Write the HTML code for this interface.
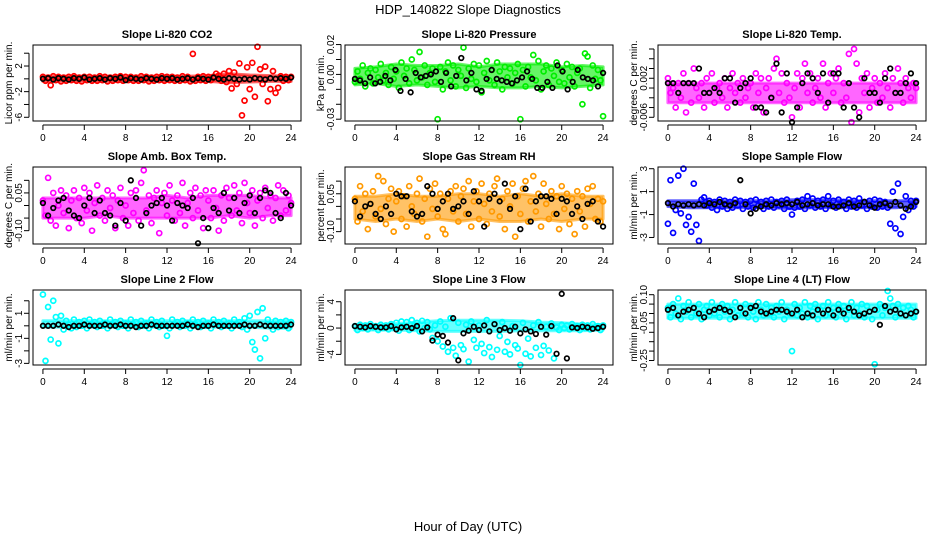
<!DOCTYPE html>
<html><head><meta charset="utf-8"><style>
html,body{margin:0;padding:0;background:#fff;}
svg{display:block;font-family:"Liberation Sans",sans-serif;}
</style></head><body>
<svg id="chart" width="936" height="540" viewBox="0 0 936 540">
<rect width="936" height="540" fill="#fff"/>
<text x="468" y="14" text-anchor="middle" font-size="13">HDP_140822  Slope Diagnostics</text>
<text x="468" y="531" text-anchor="middle" font-size="13">Hour of Day (UTC)</text>
</svg>
<script>
const xTicks = [0,4,8,12,16,20,24];
const bandHours = [0,2,4,6,8,10,12,14,16,18,20,22,24];
const co2Colored = [0.3,-0.3,0.2,-1,0.4,-0.2,0.3,-0.4,0.2,-0.3,0.3,-0.2,0.4,-0.3,0.2,-0.4,
0.3,-0.2,0.3,-0.3,0.2,-0.3,0.4,-0.2,0.3,-0.4,0.2,-0.3,0.3,-0.2,0.4,-0.3,
0.3,-0.2,0.3,-0.3,0.2,-0.3,0.4,-0.2,0.3,-0.4,0.2,-0.3,0.3,-0.2,0.4,-0.3,
0.3,-0.2,0.3,-0.3,0.2,-0.3,0.4,-0.2,0.3,-0.4,3.9,-0.3,0.3,-0.2,0.4,-0.3,
0.3,-0.2,0.3,0.8,0.5,-0.3,0.8,-0.5,1.2,-1.5,1.0,-0.8,2.4,-5.7,-3.4,1.8,
-1.6,2.5,-2.8,5.0,1.5,-0.8,1.9,-3.5,-1.6,1.2,-2.2,-1.4,0.4,-0.3,0.3,-0.2,0.3];
const co2Black = [0,0.1,-0.1,0.1,0,-0.1,0.1,0,0.2,-0.1,0,0.1,-0.1,0.1,0,0.2,-0.2,0.1,0,-0.1,0.1,0,-0.1,0.1,0,0.1,-0.1,0,0.1,-0.1,0.1,0,-0.1,0.2,0,-0.1,0.1,0,-0.1,0,-0.1,0.1,0,-0.1,0.1,0,0.1,0,0.2];
const presColored = [-0.005,0.002,-0.003,0.006,-0.008,0.001,0.004,-0.006,0.003,-0.002,0.007,-0.004,0.001,-0.007,0.005,-0.003,
0.002,-0.009,0.008,-0.001,0.004,-0.006,0.010,0.003,-0.004,0.015,-0.002,0.006,-0.007,0.001,0.004,-0.005,
-0.030,0.005,-0.010,0.002,0.008,-0.004,0.006,-0.008,0.003,-0.001,0.018,-0.009,0.004,-0.003,0.007,-0.005,
0.006,-0.012,0.001,0.009,-0.004,0.003,-0.007,0.008,0.002,-0.010,0.005,-0.002,0.004,-0.006,0.001,0.007,
-0.030,0.003,-0.008,0.005,-0.002,0.013,-0.004,0.009,-0.010,0.002,0.006,-0.007,0.004,-0.001,0.008,-0.005,
0.003,-0.006,0.007,-0.002,0.005,-0.008,0.001,0.004,-0.020,0.014,0.012,-0.009,0.006,-0.003,0.003,-0.004,-0.028];
const presBlack = [-0.003,-0.004,-0.006,-0.002,-0.006,-0.005,-0.001,-0.004,0.003,-0.011,-0.003,-0.012,0.001,-0.002,-0.001,0.000,0.002,-0.005,0.001,-0.008,-0.001,0.011,-0.004,0.001,-0.010,-0.011,-0.003,0.003,-0.003,-0.004,-0.005,-0.006,-0.004,-0.002,0.002,-0.003,-0.009,-0.009,-0.005,-0.009,0.006,0.002,-0.010,-0.005,0.003,-0.002,-0.003,-0.004,-0.008,0.001];
const tempColored = [0.002,-0.001,0.000,-0.004,0.001,-0.002,0.003,-0.005,0.001,-0.003,0.004,0.000,-0.002,0.001,-0.004,0.002,
-0.001,0.003,-0.003,0.000,0.001,-0.002,0.002,-0.004,0.000,0.003,-0.001,0.001,-0.003,0.002,-0.002,0.000,
0.001,-0.004,0.003,-0.001,0.002,-0.005,0.000,0.002,-0.002,0.004,0.006,-0.001,0.003,-0.003,0.001,-0.002,
-0.006,0.000,0.003,-0.004,0.002,0.005,-0.001,0.003,-0.003,0.000,0.002,-0.002,0.005,-0.004,0.001,0.003,
-0.001,0.002,0.004,-0.003,0.001,-0.002,0.007,-0.007,0.008,0.005,-0.005,0.002,-0.001,0.003,-0.004,0.000,
0.002,-0.003,0.001,-0.002,0.003,0.000,-0.004,0.002,-0.001,0.004,0.001,-0.003,0.002,0.000,-0.002,0.001,0.000];
const tempBlack = [0.001,0.001,-0.001,0.001,0.001,0.001,0.004,-0.001,-0.001,0.000,-0.001,0.002,0.002,-0.003,0.000,0.001,0.002,-0.004,-0.004,-0.005,-0.002,0.005,-0.005,0.003,-0.007,-0.004,0.001,0.003,0.002,-0.001,0.003,-0.003,0.003,0.003,-0.004,0.001,-0.004,-0.006,0.002,-0.001,-0.001,-0.003,0.002,0.004,-0.001,-0.001,0.001,0.003,0.001];
const ambColored = [0.02,-0.04,0.11,-0.06,0.05,-0.08,0.00,0.06,-0.03,0.04,-0.09,0.02,0.06,-0.05,0.03,-0.07,
0.07,-0.02,0.05,-0.10,0.01,0.08,-0.04,0.03,-0.06,0.06,-0.01,0.04,-0.09,0.02,0.07,-0.05,
0.00,-0.08,0.05,-0.03,0.06,-0.06,0.09,0.14,-0.02,0.04,-0.07,0.03,0.06,-0.11,0.01,0.05,
-0.04,0.08,0.02,-0.06,0.04,-0.03,0.09,-0.08,0.01,0.05,-0.05,0.07,-0.02,0.04,-0.09,0.06,
0.02,-0.05,0.06,-0.01,-0.10,0.04,-0.06,0.07,0.03,-0.04,0.08,-0.02,0.05,-0.07,0.09,0.01,
-0.03,0.06,-0.08,0.02,0.05,-0.05,0.07,-0.01,0.04,-0.06,0.03,0.08,-0.04,0.06,-0.02,0.04,0.01];
const ambBlack = [0.01,-0.04,-0.01,0.02,0.03,-0.02,-0.04,-0.05,0.00,0.03,-0.03,0.02,-0.03,-0.04,-0.08,0.01,-0.06,0.10,0.03,-0.08,-0.03,0.00,0.01,0.03,0.00,-0.06,0.01,0.00,-0.01,0.03,-0.15,-0.05,-0.09,-0.01,-0.03,0.05,-0.02,0.03,-0.03,0.01,0.04,-0.03,0.03,0.06,0.05,-0.03,-0.05,0.05,0.00];
const rhColored = [0.03,-0.06,0.08,-0.02,0.05,-0.09,0.01,0.06,-0.04,0.12,-0.01,0.10,-0.07,0.03,0.07,-0.10,
0.02,0.06,-0.05,0.04,-0.08,0.08,0.00,-0.03,0.05,0.11,-0.06,0.03,-0.12,0.07,-0.01,0.09,
-0.04,0.05,-0.09,-0.11,0.03,0.06,-0.02,0.08,-0.06,0.04,0.07,-0.03,0.10,-0.08,0.02,0.06,
-0.05,0.09,0.01,-0.07,0.05,-0.02,0.08,0.11,-0.04,0.03,-0.09,0.06,0.00,0.09,-0.12,0.04,
-0.03,0.07,0.10,-0.06,0.02,0.12,-0.02,0.05,-0.08,0.09,0.01,-0.05,0.06,-0.03,0.04,-0.09,
0.08,-0.01,0.05,-0.07,0.03,-0.11,0.06,-0.02,0.04,-0.08,0.07,0.01,0.08,-0.05,0.03,-0.06,0.02];
const rhBlack = [0.02,-0.04,0.00,0.01,-0.03,-0.05,0.00,-0.03,0.05,0.04,0.04,-0.02,-0.04,-0.03,0.08,0.05,-0.01,0.02,0.05,-0.01,0.00,0.02,-0.03,0.06,0.02,-0.08,0.03,0.05,0.02,0.09,-0.01,0.04,-0.09,0.07,-0.06,0.02,0.04,0.04,0.03,-0.03,0.03,0.02,-0.03,0.00,-0.05,0.01,0.02,-0.06,-0.08];
const flowColored = [-1.8,2.0,-2.6,-0.6,2.4,-0.9,3.0,-1.9,-1.2,-2.5,1.7,-1.9,-3.3,0.3,0.5,-0.2,
0.2,-0.4,0.1,-0.6,0.3,-0.3,0.2,-0.5,0.1,-0.4,0.3,-0.2,0.2,-0.5,0.1,-0.3,
0.2,-0.4,0.3,-0.2,0.1,-0.5,0.2,-0.3,0.3,-0.4,0.1,-0.2,0.2,-0.5,0.3,-0.3,
-1.0,-0.4,0.2,-0.3,0.3,-0.5,0.6,-0.2,0.4,-0.4,0.2,-0.3,0.3,-0.5,0.6,-0.2,
0.2,-0.4,0.3,-0.2,0.1,-0.5,0.3,-0.3,0.2,-0.4,0.4,-0.2,0.1,-0.5,0.2,-0.3,
0.3,-0.4,0.2,-0.3,0.1,-0.4,-1.8,1.0,-2.2,1.7,-2.7,-1.2,0.6,-0.6,0.2,-0.3,0.2];
const flowBlack = [0.0,-0.3,-0.1,-0.2,-0.1,-0.2,-0.1,-0.2,0.0,-0.1,0.1,-0.1,-0.2,0.0,2.0,-0.1,-0.9,-0.5,-0.3,-0.1,-0.2,0.0,-0.1,0.0,-0.1,0.1,-0.2,-0.1,0.0,-0.2,-0.1,-0.1,-0.3,-0.3,-0.2,0.0,-0.3,-0.2,0.1,-0.2,-0.4,-0.1,0.0,-0.2,0.1,-0.2,-0.5,-0.3,0.1];
const line2Colored = [2.5,-2.8,1.5,-1.1,2.0,0.7,-1.4,0.8,-0.3,0.4,0.1,-0.2,0.5,-0.1,0.3,0.0,
0.4,-0.2,0.5,0.1,0.3,-0.1,0.4,0.0,0.2,-0.2,0.5,0.1,0.3,-0.1,0.4,0.0,
0.2,-0.2,0.5,0.1,0.3,-0.1,0.4,0.0,0.2,-0.2,0.5,0.1,0.3,-0.1,0.4,0.0,
-0.8,-0.2,0.5,0.1,0.3,-0.1,0.4,0.0,0.2,-0.2,0.5,0.1,0.3,-0.1,0.4,0.0,
0.2,-0.2,0.5,0.1,0.3,-0.1,0.4,0.0,0.2,-0.2,0.5,0.1,0.3,-0.1,0.6,-0.3,
0.8,-1.3,-1.9,1.1,-2.6,1.4,-1.0,0.5,0.1,-0.3,0.4,-0.1,0.3,0.0,0.4,-0.2,0.3];
const line2Black = [0,0,0,0.1,0,-0.1,0,0,0.1,0,0,0,0.1,0,0,0.1,0,0,-0.1,0,0,0.1,0,0,0,0,0,0,0.1,0,-0.1,0,0,0.1,0,0,0,0,0,0.1,0,0,0.1,0,0,0,0,0,0.1];
const line3Colored = [0.3,-0.3,0.5,0.0,0.4,-0.2,0.6,0.1,0.3,-0.3,0.5,0.0,0.4,-0.2,0.6,0.1,
0.8,-0.4,1.0,0.2,0.9,-0.3,1.2,0.3,0.8,-0.5,1.1,0.0,0.9,-0.2,-1.5,0.4,
-2.0,1.0,-2.8,0.2,-3.6,1.5,-3.0,-4.2,0.8,-2.6,-3.2,0.5,-5.1,1.0,-1.8,-3.0,
0.4,-2.4,-3.8,1.2,-2.9,-4.4,0.6,-3.3,-1.2,0.9,-3.6,-2.1,-4.0,0.3,-2.6,-3.1,
-5.6,0.8,-3.9,-1.6,-4.3,0.4,-3.0,0.9,-4.1,-2.7,0.2,-3.4,0.7,-4.6,0.1,-0.3,
0.5,0.0,0.4,-0.2,0.6,0.1,0.3,-0.3,0.5,0.0,0.4,-0.2,0.6,0.1,0.3,-0.3,0.4];
const line3Black = [0.3,0.2,0.1,0.3,0.2,0.1,0.1,0.3,-0.2,0.1,0.2,0.0,0.3,-0.5,0.1,-1.9,-1.0,-1.2,-2.2,1.5,-4.9,-0.8,-0.4,0.2,-0.3,0.4,-0.5,0.6,-0.3,0.0,-0.4,0.2,-0.8,-0.2,-0.5,-0.9,0.2,-1.0,0.3,-3.9,5.2,-4.6,0.1,0.0,0.2,0.1,-0.1,0.0,0.2];
const line4Colored = [0.03,-0.02,0.05,0.00,0.08,-0.03,0.04,0.01,0.06,-0.02,0.03,0.00,0.05,-0.03,0.02,0.04,
-0.01,0.06,0.00,0.03,-0.02,0.05,0.01,0.04,-0.03,0.02,0.06,-0.01,0.03,0.00,0.05,-0.02,
0.04,0.01,-0.03,0.06,0.02,-0.01,0.05,0.00,0.03,-0.02,0.04,0.01,0.06,-0.03,0.02,0.00,
-0.20,0.05,-0.01,0.03,0.00,0.06,-0.02,0.04,0.01,0.05,-0.03,0.02,0.04,-0.01,0.06,0.00,
0.03,-0.02,0.05,0.01,0.04,-0.03,0.02,0.06,-0.01,0.03,0.00,0.05,-0.02,0.04,0.01,-0.03,
-0.27,0.02,0.05,-0.01,0.03,0.12,0.08,0.04,-0.02,0.05,0.00,0.03,-0.01,0.04,0.02,-0.02,0.01];
const line4Black = [0.02,0.03,-0.01,0.01,0.02,0.03,0.00,-0.02,0.01,0.02,0.03,0.02,0.01,-0.02,0.03,0.00,0.03,0.04,0.01,0.00,0.01,0.02,0.02,0.01,0.00,0.02,-0.02,0.00,-0.01,0.02,0.00,0.02,-0.01,0.02,0.00,0.03,0.01,-0.01,0.00,0.01,0.02,-0.06,0.04,0.01,0.02,0.00,-0.01,0.00,0.01];

// dense-cloud envelopes (upper / lower) at bandHours
const co2BandHi = [0.4,0.4,0.4,0.4,0.4,0.4,0.4,0.4,0.5,0.8,0.6,0.5,0.4];
const co2BandLo = [-0.4,-0.4,-0.4,-0.4,-0.4,-0.4,-0.4,-0.4,-0.4,-0.6,-0.5,-0.4,-0.4];
const presBandHi = [0.004,0.005,0.007,0.006,0.006,0.007,0.005,0.007,0.007,0.007,0.005,0.006,0.005];
const presBandLo = [-0.007,-0.006,-0.008,-0.007,-0.008,-0.009,-0.008,-0.009,-0.009,-0.008,-0.009,-0.008,-0.007];
const tempBandHi = [0.001,0.001,0.001,0.001,0.001,0.001,0.001,0.001,0.001,0.001,0.001,0.001,0.001];
const tempBandLo = [-0.003,-0.003,-0.003,-0.003,-0.003,-0.003,-0.003,-0.003,-0.003,-0.003,-0.003,-0.003,-0.003];
const ambBandHi = [0.03,0.03,0.03,0.03,0.03,0.03,0.04,0.03,0.04,0.04,0.04,0.03,0.03];
const ambBandLo = [-0.05,-0.05,-0.05,-0.04,-0.05,-0.05,-0.05,-0.05,-0.05,-0.04,-0.05,-0.04,-0.04];
const rhBandHi = [0.04,0.04,0.05,0.04,0.04,0.05,0.05,0.04,0.05,0.04,0.05,0.04,0.04];
const rhBandLo = [-0.05,-0.06,-0.05,-0.06,-0.05,-0.06,-0.05,-0.06,-0.06,-0.05,-0.06,-0.05,-0.05];
const flowBandHi = [0.2,0.2,0.2,0.2,0.2,0.2,0.3,0.3,0.3,0.2,0.2,0.2,0.2];
const flowBandLo = [-0.3,-0.4,-0.4,-0.4,-0.4,-0.4,-0.5,-0.4,-0.4,-0.4,-0.4,-0.4,-0.3];
const line2BandHi = [0.4,0.4,0.4,0.4,0.4,0.4,0.4,0.4,0.4,0.4,0.4,0.4,0.4];
const line2BandLo = [-0.1,-0.1,-0.1,-0.1,-0.1,-0.1,-0.1,-0.1,-0.1,-0.1,-0.1,-0.2,-0.2];
const line3BandHi = [0.5,0.5,0.7,0.9,1.1,1.2,1.2,1.2,1.1,0.9,0.8,0.6,0.5];
const line3BandLo = [-0.3,-0.3,-0.3,-0.4,-0.5,-0.5,-0.5,-0.5,-0.4,-0.4,-0.4,-0.4,-0.3];
const line4BandHi = [0.05,0.05,0.05,0.05,0.05,0.05,0.05,0.05,0.05,0.05,0.05,0.05,0.05];
const line4BandLo = [-0.025,-0.025,-0.025,-0.025,-0.025,-0.025,-0.025,-0.025,-0.025,-0.025,-0.025,-0.025,-0.025];

const titles = ["Slope Li-820 CO2","Slope Li-820 Pressure","Slope Li-820 Temp.","Slope Amb. Box Temp.","Slope Gas Stream RH","Slope Sample Flow","Slope Line 2 Flow","Slope Line 3 Flow","Slope Line 4 (LT) Flow"];
const yTitles = ["Licor ppm per min.","kPa per min.","degrees C per min.","degrees C per min.","percent per min.","ml/min per min.","ml/min per min.","ml/min per min.","ml/min per min."];
const yTickVals = [[4,2,0,-2,-4,-6],[0.02,0.01,0,-0.01,-0.02,-0.03],[0.008,0.006,0.004,0.002,0,-0.002,-0.004,-0.006],[0.10,0.05,0,-0.05,-0.10],[0.10,0.05,0,-0.05,-0.10],[3,1,-1,-3],[2,1,0,-1,-2,-3],[4,2,0,-2,-4],[0.10,0.05,0,-0.05,-0.10,-0.15,-0.20,-0.25]];
const yTickLabels = [["2","-2","-6"],["0.02","0.00","-0.03"],["0.002","-0.006"],["0.05","-0.10"],["0.05","-0.10"],["3","1","-1","-3"],["1","-1","-3"],["4","0","-4"],["0.10","-0.05","-0.25"]];
const yLabelVals = [[2,-2,-6],[0.02,0,-0.03],[0.002,-0.006],[0.05,-0.10],[0.05,-0.10],[3,1,-1,-3],[1,-1,-3],[4,0,-4],[0.10,-0.05,-0.25]];
const yDomains = [[-6.58,5.28],[-0.0312,0.0197],[-0.00676,0.00882],[-0.153,0.153],[-0.149,0.156],[-3.57,3.15],[-3.13,2.86],[-5.61,5.78],[-0.274,0.125]];
const coloredSeries = [co2Colored,presColored,tempColored,ambColored,rhColored,flowColored,line2Colored,line3Colored,line4Colored];
const blackSeries = [co2Black,presBlack,tempBlack,ambBlack,rhBlack,flowBlack,line2Black,line3Black,line4Black];
const bandHiSeries = [co2BandHi,presBandHi,tempBandHi,ambBandHi,rhBandHi,flowBandHi,line2BandHi,line3BandHi,line4BandHi];
const bandLoSeries = [co2BandLo,presBandLo,tempBandLo,ambBandLo,rhBandLo,flowBandLo,line2BandLo,line3BandLo,line4BandLo];
const seriesColors = ["#ff0000","#00ee00","#ff00ff","#ff00ff","#ff9900","#0000ff","#00ffff","#00ffff","#00ffff"];
const slugs = ["co2","pressure","li820-temp","amb-box-temp","gas-stream-rh","sample-flow","line2-flow","line3-flow","line4-flow"];

const NS = "http://www.w3.org/2000/svg";
const svg = document.getElementById("chart");
const colBoxes = [[33,301],[345,613],[658,926]];
const rowBoxes = [[45,121],[167,244],[290,365]];
const xDom = [-0.96,24.96];

function mk(tag, attrs, parent){const e=document.createElementNS(NS,tag);for(const k in attrs)e.setAttribute(k,attrs[k]);(parent||svg).appendChild(e);return e;}

for(let p=0;p<9;p++){
  const c=p%3, r=Math.floor(p/3);
  const [L,R]=colBoxes[c], [T,B]=rowBoxes[r];
  const [ylo,yhi]=yDomains[p];
  const xs=v=>L+(v-xDom[0])/(xDom[1]-xDom[0])*(R-L);
  const ys=v=>B-(v-ylo)/(yhi-ylo)*(B-T);
  const g=mk("g",{});
  
  
  const t=mk("text",{x:(L+R)/2,y:T-7,"text-anchor":"middle","font-size":"11","font-weight":"bold"},g);
  t.textContent=titles[p];
  
  
  const yt=mk("text",{x:0,y:0,"text-anchor":"middle","font-size":"10",transform:`translate(${L-21},${(T+B)/2}) rotate(-90)`},g);
  yt.textContent=yTitles[p];
  
  
  // dense band
  const hi=bandHiSeries[p], lo=bandLoSeries[p];
  let d="";
  bandHours.forEach((h,i)=>{d+=(i?"L":"M")+xs(h).toFixed(1)+","+ys(hi[i]).toFixed(1);});
  for(let i=bandHours.length-1;i>=0;i--){d+="L"+xs(bandHours[i]).toFixed(1)+","+ys(lo[i]).toFixed(1);}
  d+="Z";
  const band=mk("path",{d:d,fill:seriesColors[p],stroke:seriesColors[p],"stroke-width":3,"stroke-linejoin":"round","fill-opacity":0.6,"stroke-opacity":0.6},g);
  
  
  // points
  const pts=mk("g",{fill:"none"},g);
  
  
  const cs=coloredSeries[p];
  cs.forEach((v,i)=>{
    const cc=mk("circle",{cx:xs(i*24/(cs.length-1)),cy:ys(v),r:2.5,stroke:seriesColors[p],"stroke-width":1.7},pts);
    
    
  });
  const bpts=mk("g",{fill:"none"},g);
  
  
  const bs=blackSeries[p];
  bs.forEach((v,i)=>{
    const cc=mk("circle",{cx:xs(i*24/(bs.length-1)),cy:ys(v),r:2.3,stroke:"#000","stroke-width":1.7},bpts);
    
    
  });
  const box=mk("rect",{x:L,y:T,width:R-L,height:B-T,fill:"none",stroke:"#000","stroke-width":1},g);
  
  
  // x axis
  const xa=mk("g",{},g);
  
  
  mk("line",{x1:xs(xTicks[0]),x2:xs(xTicks[xTicks.length-1]),y1:B+4,y2:B+4,stroke:"#000"},xa);
  xTicks.forEach(v=>{
    mk("line",{x1:xs(v),x2:xs(v),y1:B+4,y2:B+9,stroke:"#000"},xa);
    const tl=mk("text",{x:xs(v),y:B+20,"text-anchor":"middle","font-size":"10"},xa);
    tl.textContent=String(v);
    
    
  });
  // y axis
  const ya=mk("g",{},g);
  
  
  const tv=yTickVals[p];
  mk("line",{x1:L-4,x2:L-4,y1:ys(tv[0]),y2:ys(tv[tv.length-1]),stroke:"#000"},ya);
  tv.forEach(v=>mk("line",{x1:L-9,x2:L-4,y1:ys(v),y2:ys(v),stroke:"#000"},ya));
  yLabelVals[p].forEach((v,i)=>{
    const tl=mk("text",{x:0,y:0,"text-anchor":"middle","font-size":"10",transform:`translate(${L-11},${ys(v)}) rotate(-90)`},ya);
    tl.textContent=yTickLabels[p][i];
    
    
  });
}
</script>
</body></html>
